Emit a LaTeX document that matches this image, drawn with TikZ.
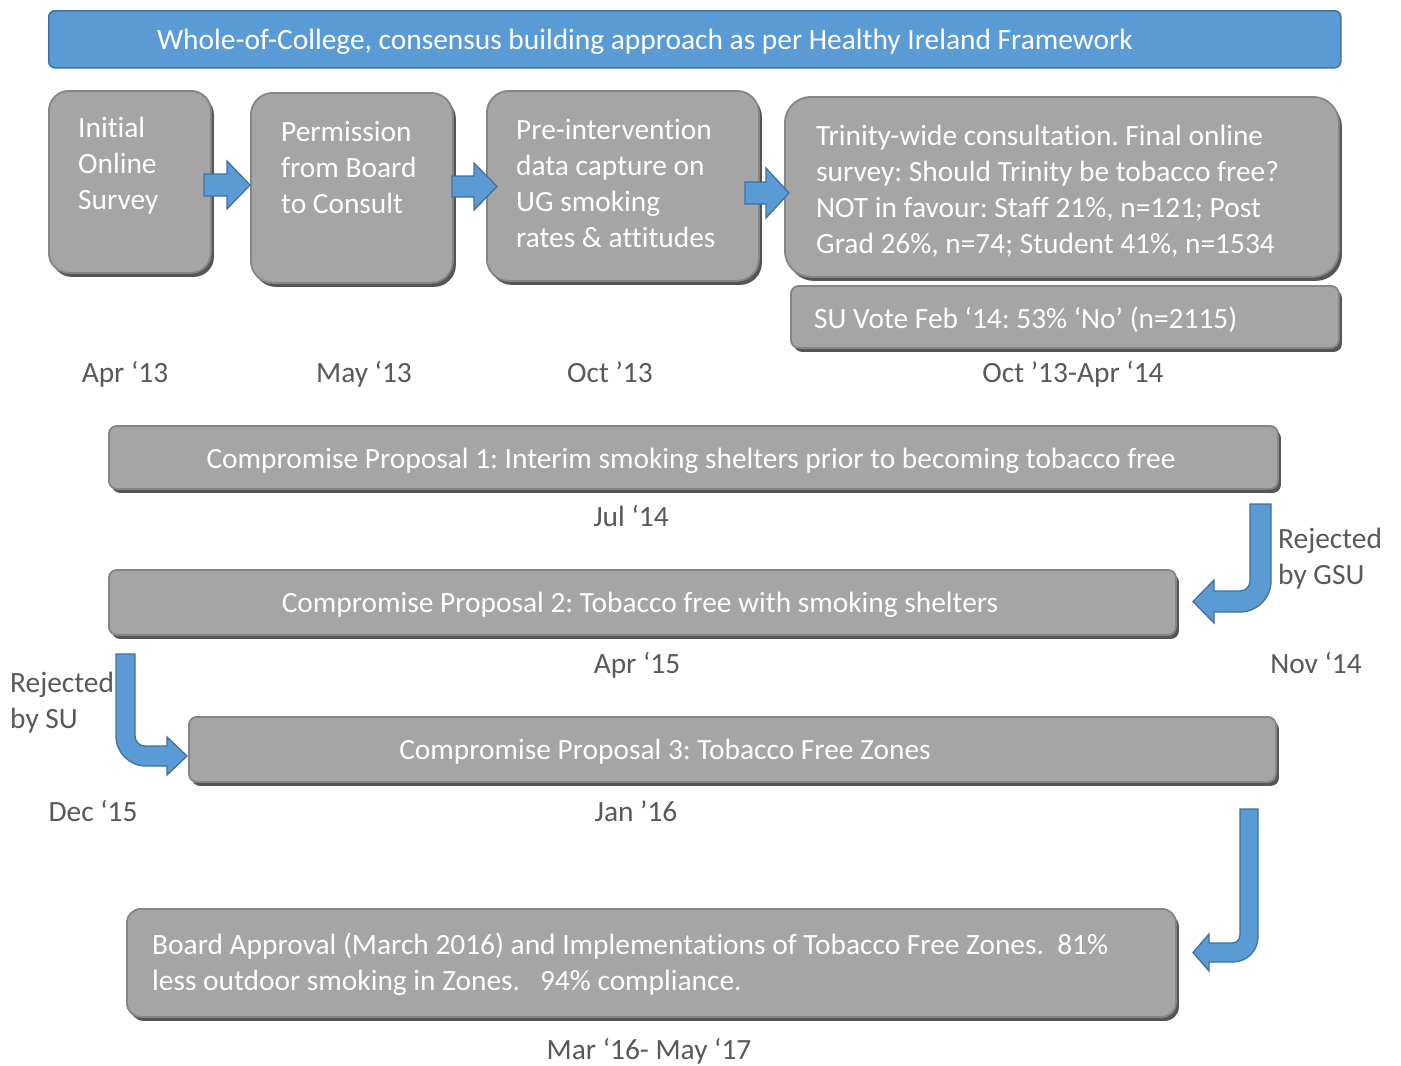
\documentclass[tikz,border=0pt]{standalone}
\usepackage{fontspec}
\setmainfont{Carlito}[Ligatures={NoCommon}]
\usetikzlibrary{shadows}
\definecolor{bluefill}{HTML}{5B9BD5}
\definecolor{blueline}{HTML}{41719C}
\definecolor{greyfill}{HTML}{A5A5A5}
\definecolor{greyline}{HTML}{858585}
\definecolor{shadowgrey}{HTML}{555555}
\definecolor{labelgrey}{HTML}{595959}
\frenchspacing
\begin{document}
\begin{tikzpicture}[x=1pt,y=-1pt,
  greybox/.style={draw=greyline, line width=1.8pt, fill=greyfill, rounded corners=#1, inner sep=0pt, anchor=north west,
    drop shadow={shadow xshift=3pt, shadow yshift=-4pt, fill=shadowgrey, opacity=1}},
  greybox/.default=8pt,
  bluebox/.style={draw=blueline, line width=1.5pt, fill=bluefill, rounded corners=6pt, inner sep=0pt, anchor=north west},
  boxtxt/.style={text=white, font=\fontsize{29.4}{36}\selectfont, align=left, anchor=north west, inner sep=0pt},
  linetxt/.style={text=white, font=\fontsize{29.4}{36}\selectfont, anchor=base, inner sep=0pt},
  datelbl/.style={text=labelgrey, font=\fontsize{29.4}{36}\selectfont, anchor=base, inner sep=0pt},
  sidelbl/.style={text=labelgrey, font=\fontsize{29.4}{36}\selectfont, align=left, anchor=north west, inner sep=0pt},
  blockarrow/.style={draw=blueline, line width=1.3pt, fill=bluefill, line join=miter}
]
\useasboundingbox (0,0) rectangle (1401,1066);
\fill[white] (0,0) rectangle (1401,1066);

% banner
\node[bluebox, minimum width=1292pt, minimum height=57pt] (banner) at (48,10) {};
\node[linetxt] (bannertxt) at (645,49) {Whole-of-College, consensus building approach as per Healthy Ireland Framework};

% top row boxes
\node[greybox=20pt, minimum width=162pt, minimum height=182pt] (b1) at (48,90) {};
\node[greybox=22pt, minimum width=202pt, minimum height=190pt] (b2) at (250,92) {};
\node[greybox=22pt, minimum width=272pt, minimum height=190pt] (b3) at (486,90) {};
\node[greybox=26pt, minimum width=554pt, minimum height=180pt] (b4) at (784,96) {};
\node[greybox=8pt, minimum width=548pt, minimum height=62pt] (b5) at (790,285) {};

\node[boxtxt] (t1) at (78,117) {Initial\\Online\\Survey};
\node[boxtxt] (t2) at (281,121) {Permission\\from Board\\to Consult};
\node[boxtxt] (t3) at (516,119) {Pre-intervention\\data capture on\\UG smoking\\rates \& attitudes};
\node[boxtxt] (t4) at (816,125) {Trinity-wide consultation. Final online\\survey: Should Trinity be tobacco free?\\NOT in favour: Staff 21\%, n=121; Post\\Grad 26\%, n=74; Student 41\%, n=1534};
\node[linetxt, anchor=base west] (t5) at (814,328) {SU Vote Feb ‘14: 53\% ‘No’ (n=2115)};

% straight block arrows
\draw[blockarrow] (204,174) -- (227,174) -- (227,161) -- (250,185) -- (227,209) -- (227,196) -- (204,196) -- cycle;
\draw[blockarrow] (452,176) -- (474,176) -- (474,163) -- (497,186.5) -- (474,210) -- (474,197) -- (452,197) -- cycle;
\draw[blockarrow] (745,182) -- (766,182) -- (766,168) -- (789,193) -- (766,218) -- (766,204) -- (745,204) -- cycle;

% dates row 1
\node[datelbl] (d1) at (125,382) {Apr ‘13};
\node[datelbl] (d2) at (364,382) {May ‘13};
\node[datelbl] (d3) at (610,382) {Oct ’13};
\node[datelbl] (d4) at (1073,382) {Oct ’13-Apr ‘14};

% proposals
\node[greybox=8pt, minimum width=1169pt, minimum height=63pt] (p1) at (108,425) {};
\node[linetxt] (p1t) at (691,468) {Compromise Proposal 1: Interim smoking shelters prior to becoming tobacco free};
\node[datelbl] (d5) at (631,526) {Jul ‘14};

\node[greybox=8pt, minimum width=1067pt, minimum height=65pt] (p2) at (108,569) {};
\node[linetxt] (p2t) at (640,612) {Compromise Proposal 2: Tobacco free with smoking shelters};
\node[datelbl] (d6) at (637,673) {Apr ‘15};
\node[datelbl] (d7) at (1316,673) {Nov ‘14};

\node[greybox=8pt, minimum width=1087pt, minimum height=65pt] (p3) at (188,716) {};
\node[linetxt] (p3t) at (665,759) {Compromise Proposal 3: Tobacco Free Zones};
\node[datelbl] (d8) at (93,821) {Dec ‘15};
\node[datelbl] (d9) at (636,821) {Jan ’16};

\node[greybox=14pt, minimum width=1049pt, minimum height=108pt] (fin) at (126,908) {};
\node[boxtxt] (fint) at (152,933) {Board Approval (March 2016) and Implementations of Tobacco Free Zones.~~81\%\\less outdoor smoking in Zones.~~~94\% compliance.};
\node[datelbl] (d10) at (649,1059) {Mar ‘16- May ‘17};

% side labels
\node[sidelbl] (gsu) at (1278,528) {Rejected\\by GSU};
\node[sidelbl] (su) at (10,672) {Rejected\\by SU};

% bent arrows
\draw[blockarrow] (1250,504) -- (1271,504) -- (1271,581) .. controls (1271,598.1) and (1257.1,612) .. (1240,612)
  -- (1214,612) -- (1214,623) -- (1193,601.5) -- (1214,580) -- (1214,591) -- (1240,591)
  .. controls (1245.5,591) and (1250,586.5) .. (1250,581) -- cycle;
\draw[blockarrow] (116,654) -- (135,654) -- (135,736) .. controls (135,741.5) and (139.5,746) .. (145,746)
  -- (167,746) -- (167,737) -- (187,756) -- (167,775) -- (167,766) -- (146,766)
  .. controls (129.4,766) and (116,752.6) .. (116,736) -- cycle;
\draw[blockarrow] (1240,809) -- (1258,809) -- (1258,937) .. controls (1258,950.8) and (1246.8,962) .. (1233,962)
  -- (1209,962) -- (1209,971) -- (1193,952.5) -- (1209,934) -- (1209,943) -- (1232,943)
  .. controls (1236.4,943) and (1240,939.4) .. (1240,935) -- cycle;
\end{tikzpicture}
\end{document}
